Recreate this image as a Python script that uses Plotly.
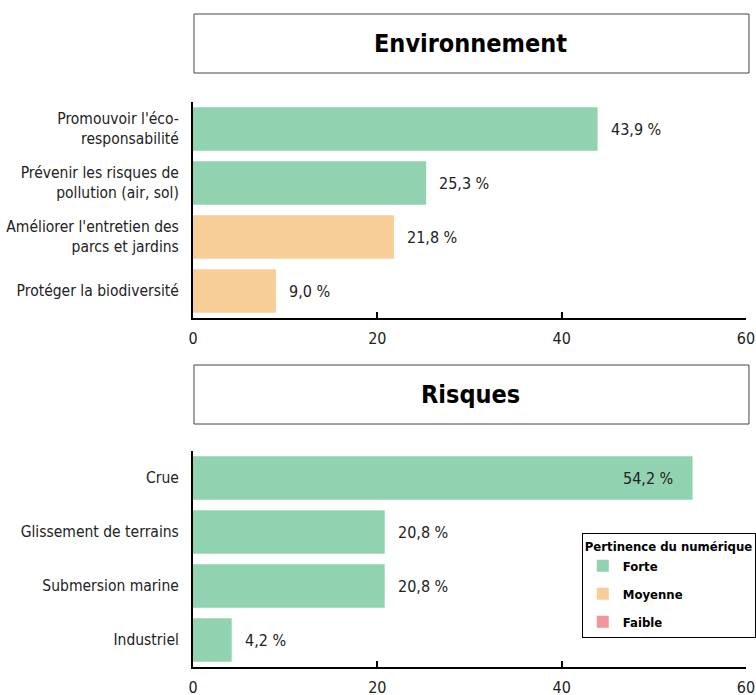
import plotly.graph_objects as go
from plotly.subplots import make_subplots

# ---- data ----
env_title = "Environnement"
env_cats = ["Promouvoir l'éco-<br>responsabilité",
            "Prévenir les risques de<br>pollution (air, sol)",
            "Améliorer l'entretien des<br>parcs et jardins",
            "Protéger la biodiversité"]
env_vals = [43.9, 25.3, 21.8, 9.0]
env_levels = ["Forte", "Forte", "Moyenne", "Moyenne"]

risk_title = "Risques"
risk_cats = ["Crue", "Glissement de terrains", "Submersion marine", "Industriel"]
risk_vals = [54.2, 20.8, 20.8, 4.2]
risk_levels = ["Forte", "Forte", "Forte", "Forte"]

levels = ["Forte", "Moyenne", "Faible"]
level_colors = {"Forte": "#91D3B0", "Moyenne": "#F8CE98", "Faible": "#F3969B"}
x_ticks = [0, 20, 40, 60]

FONT = "DejaVu Sans Condensed, Liberation Sans Narrow, Arial Narrow, sans-serif"
W, H = 756, 695
L, R = 193, 4

def py(px):
    return 1 - px / H

fig = make_subplots(rows=2, cols=1)

rank = {"Forte": 1, "Moyenne": 2, "Faible": 3}
shown = set()
panels = [(1, env_cats, env_vals, env_levels), (2, risk_cats, risk_vals, risk_levels)]
for row, cats, vals, lv in panels:
    for lev in levels:
        ys = [c for c, l in zip(cats, lv) if l == lev]
        xs = [v for v, l in zip(vals, lv) if l == lev]
        if not ys:
            continue
        fig.add_trace(go.Bar(
            x=xs, y=ys, orientation="h", name=f"<b>{lev}</b>", legendgroup=lev,
            marker=dict(color=level_colors[lev], line=dict(width=0)),
            showlegend=lev not in shown, legendrank=rank[lev],
            hoverinfo="skip"), row=row, col=1)
        shown.add(lev)
    for c, v in zip(cats, vals):
        inside = v > 50
        fig.add_annotation(
            x=v, y=c, text=f"{v:.1f}".replace(".", ",") + " %",
            xanchor="right" if inside else "left", yanchor="middle",
            xshift=-18 if inside else 11, showarrow=False,
            font=dict(family=FONT, size=16, color="#222"),
            row=row, col=1)

# legend-only entry for Faible
fig.add_trace(go.Bar(x=[0], y=[risk_cats[0]], orientation="h", name="<b>Faible</b>",
                     legendgroup="Faible",
                     marker=dict(color=level_colors["Faible"], line=dict(width=0)),
                     legendrank=3, hoverinfo="skip"), row=2, col=1)

axis_common = dict(showline=True, linecolor="black", linewidth=2, showgrid=False,
                   zeroline=False, automargin=False)
for row, cats, dom in [(1, env_cats, [py(318), py(102)]), (2, risk_cats, [py(667), py(451)])]:
    fig.update_xaxes(range=[0, 60], tickvals=x_ticks, ticks="inside", ticklen=6,
                     tickwidth=2, tickcolor="black", ticklabelstandoff=5,
                     tickfont=dict(family=FONT, size=16, color="#222"),
                     domain=[0, 1], **axis_common, row=row, col=1)
    fig.update_yaxes(categoryorder="array", categoryarray=cats[::-1],
                     ticks="", ticklabelstandoff=9, domain=dom,
                     tickfont=dict(family=FONT, size=15.5, color="#222"),
                     **axis_common, row=row, col=1)

# title boxes
for title, top, bot in [(env_title, 14, 73), (risk_title, 365, 424)]:
    fig.add_shape(type="rect", xref="paper", yref="paper",
                  x0=(194 - L) / (W - L - R), x1=(755 - L) / (W - L - R),
                  y0=py(bot), y1=py(top), line=dict(color="#444", width=1),
                  fillcolor="white")
    fig.add_annotation(xref="paper", yref="paper", x=(474 - L) / (W - L - R),
                       y=py((top + bot) / 2), text=f"<b>{title}</b>", showarrow=False,
                       xanchor="center", yanchor="middle",
                       font=dict(family=FONT, size=25, color="black"))

fig.update_layout(
    width=W, height=H, margin=dict(l=L, r=R, t=0, b=0),
    template="none", plot_bgcolor="white", paper_bgcolor="white",
    barmode="overlay", bargap=0.19,
    font=dict(family=FONT, color="#222"),
    legend=dict(title=dict(text="<b>Pertinence du numérique</b>",
                           font=dict(family=FONT, size=13, color="black")),
                font=dict(family=FONT, size=13, color="black"),
                x=(586 - L) / (W - L - R), y=py(533), xanchor="left", yanchor="top",
                bordercolor="black", borderwidth=1, bgcolor="white",
                traceorder="grouped", tracegroupgap=8, itemsizing="constant"),
)

fig.write_html("out.html")
